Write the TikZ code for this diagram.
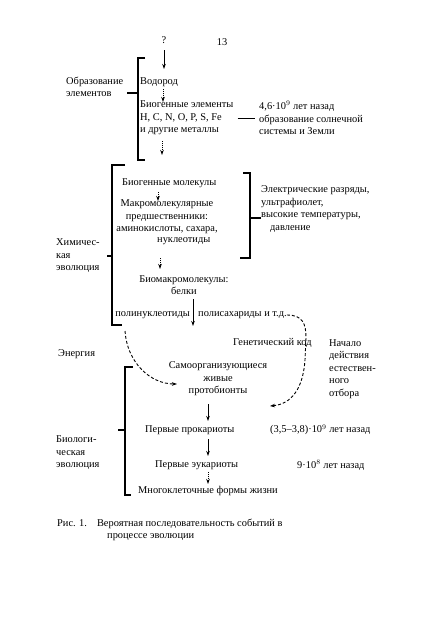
\documentclass[tikz,border=0pt]{standalone}
\usepackage{fontspec}
\setmainfont{Liberation Serif}
\usetikzlibrary{arrows.meta}
\begin{document}
\begin{tikzpicture}[x=1pt,y=-1pt,
  every node/.style={font=\fontsize{10.4}{12.5}\selectfont, inner sep=0pt},
  lbl/.style={anchor=west, align=left},
  brk/.style={line width=1.1pt},
  arr/.style={-{Stealth[length=5pt,width=3.5pt]}, line width=0.9pt},
  darr/.style={arr, densely dotted},
  carr/.style={-{Stealth[length=5pt,width=3.5pt]}, line width=0.9pt, densely dashed}]
\useasboundingbox[fill=white] (0,0) rectangle (434,627);

% ---- element formation
\node (q) at (164,40) {?};
\node (p13) at (222,42) {13};
\node[lbl] (oe) at (66,87) {Образование\\элементов};
\node[lbl] (h) at (140,82) {Водород};
\node[lbl] (be) at (140,118) {Биогенные элементы\\H, C, N, O, P, S, Fe\\и другие металлы};
\node[lbl] (t1) at (259,118) {4,6·10$^9$ лет назад\\образование солнечной\\системы и Земли};
\draw[brk] (145,58) -- (138,58) -- (138,160) -- (145,160);
\draw[brk] (127,93) -- (138,93);
\coordinate (qa) at (164,50);
\coordinate (qb) at (164,69);
\draw[arr] (qa) -- (qb);
\coordinate (ha) at (163,89);
\coordinate (hb) at (163,102);
\draw[darr] (ha) -- (hb);
\draw[line width=0.9pt] (be.east |- t1.west) ++(4,0) -- ([xshift=-4pt]t1.west);
\coordinate (bea) at (162,141);
\coordinate (beb) at (162,155);
\draw[darr] (bea) -- (beb);

% ---- chemical evolution
\node[lbl] (bm) at (122,183) {Биогенные молекулы};
\node[align=center] (mm) at (167,217) {Макромолекулярные\\предшественники:\\аминокислоты, сахара,};
\node[lbl] (mm4) at (157,241) {нуклеотиды};
\node[lbl] (rt) at (261,209) {Электрические разряды,\\ультрафиолет,\\высокие температуры,\\\hspace*{9pt}давление};
\node[lbl] (hl) at (56,256) {Химичес-\\кая\\эволюция};
\node[align=center] (bmm) at (184,285) {Биомакромолекулы:\\белки};
\node[anchor=east] (pn) at (190,315) {полинуклеотиды};
\node[lbl] (ps) at (198,315) {полисахариды и т.д.};
\draw[brk] (125,165) -- (112,165) -- (112,325) -- (122,325);
\draw[brk] (107,256) -- (112,256);
\draw[brk] (243,173) -- (250,173) -- (250,258) -- (240,258);
\draw[brk] (250,218) -- (rt.west |- 0,218);
\coordinate (ma) at (158,192);
\coordinate (mb) at (158,201);
\draw[darr] (ma) -- (mb);
\coordinate (na) at (160,258);
\coordinate (nb) at (160,269);
\draw[darr] (na) -- (nb);
\coordinate (pa) at (193,299);
\coordinate (pb) at (193,326);
\draw[arr] (pa) -- (pb);

% ---- transition
\node[lbl] (en) at (58,354) {Энергия};
\node[lbl] (gk) at (233,343) {Генетический код};
\node[lbl] (nach) at (329,369) {Начало\\действия\\естествен-\\ного\\отбора};
\node[align=center] (so) at (218,379) {Самоорганизующиеся\\живые\\протобионты};
\coordinate (c2) at (270,406);
\coordinate (c3) at (125,331);
\coordinate (c4) at (177,384);
\draw[carr] (ps.east) .. controls (303,315) and (306,324) .. (306,338) -- (305,360) .. controls (303,388) and (292,404) .. (c2);
\draw[carr] (c3) .. controls (127,362) and (150,384) .. (c4);

% ---- biological evolution
\node[lbl] (bl) at (56,453) {Биологи-\\ческая\\эволюция};
\node[lbl] (pp) at (145,430) {Первые прокариоты};
\node[lbl] (pt) at (270,430) {(3,5–3,8)·10$^9$ лет назад};
\node[lbl] (pe) at (155,465) {Первые эукариоты};
\node[lbl] (et) at (297,465) {9·10$^8$ лет назад};
\node[lbl] (mf) at (138,491) {Многоклеточные формы жизни};
\draw[brk] (133,367) -- (125,367) -- (125,495) -- (131,495);
\draw[brk] (118,430) -- (125,430);
\coordinate (sa) at (208,404);
\coordinate (sb) at (208,421);
\draw[arr] (sa) -- (sb);
\coordinate (ea) at (208,439);
\coordinate (eb) at (208,456);
\draw[arr] (ea) -- (eb);
\coordinate (fa) at (208,472);
\coordinate (fb) at (208,484);
\draw[darr] (fa) -- (fb);

% ---- caption
\node[lbl] (cap) at (57,524) {Рис. 1.\hspace{10pt}Вероятная последовательность событий в};
\node[lbl] (cap2) at (107,537) {процессе эволюции};
\end{tikzpicture}
\end{document}
